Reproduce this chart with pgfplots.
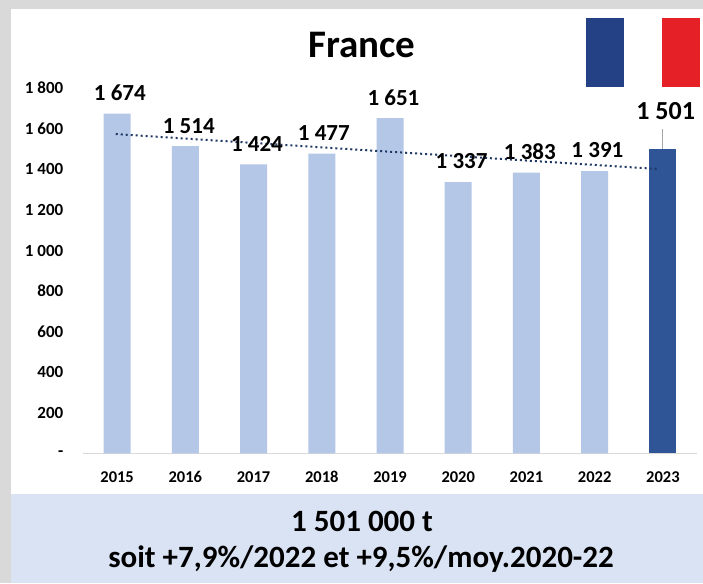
\documentclass[border=0pt]{standalone}
\usepackage{fontspec}
\setmainfont{Carlito}
\usepackage{pgfplots}
\usepackage{pgfplotstable}
\pgfplotsset{compat=1.18}
\definecolor{panel}{HTML}{DAE3F3}
\definecolor{page}{HTML}{D9D9D9}
\definecolor{lightbar}{HTML}{B4C7E7}
\definecolor{darkbar}{HTML}{2F5597}
\definecolor{trend}{HTML}{1F3864}
\definecolor{flagblue}{HTML}{244185}
\definecolor{flagred}{HTML}{E52026}
\definecolor{gridc}{HTML}{D9D9D9}
\pgfplotstableread{
x y
0 1674
1 1514
2 1424
3 1477
4 1651
5 1337
6 1383
7 1391
}\lightdata
\pgfplotstableread{
x y
8 1501
}\darkdata
\pgfplotstableread{
x y label
0.04 1775 {1 674}
1.05 1614 {1 514}
2.05 1525 {1 424}
3.03 1580 {1 477}
4.05 1750 {1 651}
5.05 1438 {1 337}
6.05 1488 {1 383}
7.04 1493 {1 391}
}\labeldata
\pgfplotstableread{
x y label
8.04 1685 {1 501}
}\lastlabel
\begin{document}
\begin{tikzpicture}[x=1pt,y=1pt]
\path[use as bounding box] (0,0) rectangle (703,583);
\fill[page] (0,0) rectangle (703,583);
\fill[white] (11,0) rectangle (703,574);
\fill[panel] (11,0) rectangle (703,89);
\begin{axis}[
  at={(83pt,129.5pt)}, anchor=south west,
  scale only axis, width=614pt, height=365.5pt,
  xmin=-0.5, xmax=8.5, ymin=0, ymax=1800,
  clip=false,
  axis x line*=bottom, axis y line=none,
  axis line style={gridc, line width=1pt},
  x axis line style={-},
  ymajorgrids, grid style={gridc, line width=1pt},
  ytick={0,200,400,600,800,1000,1200,1400,1600,1800},
  xtick={0,...,8},
  xticklabels={2015,2016,2017,2018,2019,2020,2021,2022,2023},
  major tick length=0pt,
  xticklabel style={font=\fontsize{16.5}{18}\selectfont\bfseries, text height=11pt, text depth=0pt, anchor=north, yshift=-14pt},
  bar width=27pt,
]
\addplot[ybar, bar shift=0pt, fill=lightbar, draw=none] table[x=x,y=y] {\lightdata};
\addplot[ybar, bar shift=0pt, fill=darkbar, draw=none] table[x=x,y=y] {\darkdata};
\addplot[gray!70, line width=1pt] coordinates {(8,1501) (8,1600)};
\addplot[trend, line width=2pt, dash pattern=on 2pt off 3pt] coordinates {(-0.02,1573) (7.93,1401)};
\addplot[only marks, mark=none, point meta=explicit symbolic,
  nodes near coords, nodes near coords align={center},
  every node near coord/.style={font=\fontsize{23}{25}\selectfont\bfseries, black, anchor=center, inner sep=0pt}]
  table[x=x,y=y,meta=label] {\labeldata};
\addplot[only marks, mark=none, point meta=explicit symbolic,
  nodes near coords, nodes near coords align={center},
  every node near coord/.style={font=\fontsize{26}{28}\selectfont\bfseries, black, anchor=center, inner sep=0pt}]
  table[x=x,y=y,meta=label] {\lastlabel};
\end{axis}
\foreach \yy/\t in {453.5/-,412.9/200,372.3/400,331.7/600,291.1/800,250.5/1 000,209.9/1 200,169.3/1 400,128.7/1 600,88.1/1 800}
  \node[anchor=east, inner sep=0pt, font=\fontsize{17}{19}\selectfont\bfseries] at (63.5,583-\yy) {\t};
\fill[flagblue] (586,496) rectangle (623.5,565);
\fill[flagred] (662,496) rectangle (700,565);
\node[font=\fontsize{39}{42}\selectfont\bfseries] at (362,538) {France};
\node[font=\fontsize{31}{34}\selectfont\bfseries] at (362,62) {1 501 000 t};
\node[font=\fontsize{31}{34}\selectfont\bfseries] at (361,23.5) {soit +7,9\%/2022 et +9,5\%/moy.2020-22};
\end{tikzpicture}
\end{document}
